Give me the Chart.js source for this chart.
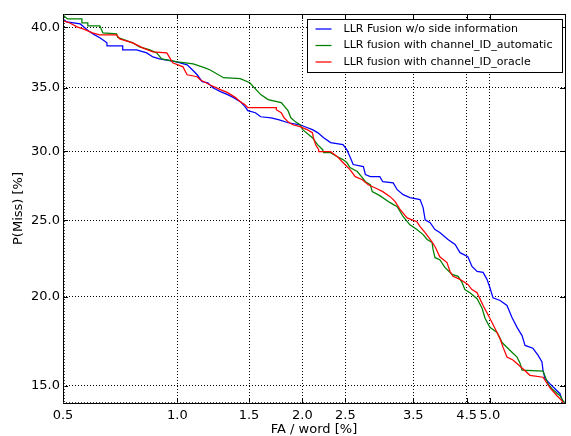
<!DOCTYPE html>
<html>
<head>
<meta charset="utf-8">
<script src="https://cdn.jsdelivr.net/npm/chart.js@4"></script>
<style>
  html, body { margin: 0; padding: 0; background: #fff; }
  #wrap { width: 571px; height: 436px; position: relative; }
</style>
</head>
<body>
<div id="wrap"><canvas id="det"></canvas></div>
<script>
// DET curve, both axes on a normal-deviate (probit) scale, values in percent

const xTicks = [0.5, 1.0, 1.5, 2.0, 2.5, 3.5, 4.5, 5.0];
const yTicks = [15, 20, 25, 30, 35, 40];
const xRange = [0.5, 6.93];
const yRange = [14.15, 41.12];

const seriesLabels = [
    'LLR Fusion w/o side information',
    'LLR fusion with channel_ID_automatic',
    'LLR fusion with channel_ID_oracle'
];
const seriesColors = ['#0000ff', '#008000', '#ff0000'];

// FA / word [%] and P(Miss) [%]
const blueFa = [0.5, 0.512, 0.557, 0.574, 0.591, 0.609, 0.629, 0.657, 0.657, 0.723, 0.723, 0.786, 0.835, 0.866, 0.901, 0.996,
    1.058, 1.09, 1.121, 1.153, 1.191, 1.226, 1.279, 1.332, 1.377, 1.429, 1.467, 1.49, 1.553, 1.599, 1.693, 1.768, 1.853, 1.975,
    2.027, 2.108, 2.166, 2.236, 2.317, 2.469, 2.518, 2.559, 2.601, 2.738, 2.766, 2.835, 2.972, 3.016, 3.175, 3.238, 3.333, 3.444,
    3.616, 3.669, 3.705, 3.794, 3.882, 3.971, 4.126, 4.265, 4.364, 4.524, 4.61, 4.719, 4.849, 4.935, 5.0, 5.07, 5.234, 5.397,
    5.515, 5.641, 5.766, 5.842, 6.045, 6.179, 6.286, 6.313, 6.366, 6.5, 6.643, 6.786, 6.871];
const blueMiss = [40.7, 40.45, 40.28, 39.94, 39.61, 39.36, 39.11, 38.69, 38.44, 38.44, 38.1, 38.1, 37.85, 37.52, 37.35, 37.11,
    36.87, 36.46, 36.05, 35.49, 35.4, 35.0, 34.68, 34.44, 34.2, 33.88, 33.48, 33.16, 33.0, 32.68, 32.6, 32.44, 32.21, 32.05,
    31.9, 31.67, 31.44, 31.05, 30.67, 30.52, 30.13, 29.6, 29.01, 28.86, 28.26, 28.11, 28.11, 27.74, 27.66, 27.16, 26.8, 26.59,
    26.45, 25.88, 25.02, 24.82, 24.35, 24.15, 23.68, 23.34, 22.8, 22.53, 21.9, 21.58, 21.52, 21.08, 20.57, 19.94, 19.77, 19.47,
    18.77, 18.18, 17.71, 17.16, 17.0, 16.62, 16.25, 15.82, 15.39, 15.12, 14.86, 14.61, 14.16];

const greenFa = [0.5, 0.505, 0.515, 0.563, 0.563, 0.584, 0.584, 0.629, 0.641, 0.697, 0.701, 0.768, 0.8, 0.851, 0.886, 0.912,
    1.0, 1.096, 1.172, 1.204, 1.302, 1.429, 1.506, 1.599, 1.665, 1.787, 1.853, 1.881, 1.928, 1.975, 2.003, 2.108, 2.166, 2.224,
    2.236, 2.317, 2.399, 2.469, 2.518, 2.559, 2.656, 2.724, 2.766, 2.835, 2.862, 2.972, 3.127, 3.238, 3.333, 3.444, 3.562, 3.669,
    3.74, 3.829, 3.847, 3.882, 3.971, 4.067, 4.206, 4.324, 4.403, 4.462, 4.567, 4.719, 4.827, 4.892, 5.0, 5.164, 5.28, 5.467,
    5.641, 5.716, 5.766, 6.313, 6.447, 6.557, 6.786, 6.871, 6.93];
const greenMiss = [41.1, 40.9, 40.7, 40.7, 40.36, 40.36, 40.11, 40.11, 39.52, 39.44, 39.15, 38.69, 38.35, 38.1, 37.85, 37.35,
    37.11, 36.95, 36.62, 36.46, 35.81, 35.73, 35.4, 34.44, 34.04, 33.8, 33.16, 32.6, 32.28, 32.05, 31.67, 31.05, 30.52, 30.13,
    29.9, 29.9, 29.6, 29.38, 29.16, 28.78, 28.49, 28.04, 27.74, 27.52, 27.02, 26.73, 26.23, 25.95, 25.24, 24.68, 24.35, 24.01,
    23.68, 23.47, 23.0, 22.47, 22.34, 21.84, 21.39, 21.27, 20.89, 20.44, 20.25, 19.88, 19.3, 18.71, 18.18, 17.89, 17.32, 16.89,
    16.52, 16.19, 15.82, 15.77, 15.12, 14.86, 14.51, 14.26, 14.16];

const redFa = [0.5, 0.522, 0.546, 0.567, 0.601, 0.629, 0.697, 0.71, 0.768, 0.815, 0.866, 0.94, 0.957, 0.973, 1.033, 1.058,
    1.121, 1.14, 1.204, 1.279, 1.332, 1.392, 1.429, 1.467, 1.49, 1.74, 1.74, 1.787, 1.815, 1.853, 1.9, 1.975, 2.05, 2.108, 2.12,
    2.143, 2.178, 2.178, 2.317, 2.399, 2.469, 2.559, 2.628, 2.724, 2.807, 2.931, 3.016, 3.127, 3.206, 3.286, 3.397, 3.562, 3.616,
    3.705, 3.794, 3.882, 3.971, 4.107, 4.166, 4.225, 4.364, 4.524, 4.61, 4.719, 4.849, 5.0, 5.117, 5.234, 5.304, 5.397, 5.54,
    5.766, 5.967, 6.313, 6.5, 6.7, 6.843, 6.871];
const redMiss = [40.53, 40.36, 40.03, 39.86, 39.52, 39.36, 39.36, 39.02, 38.69, 38.27, 37.94, 37.85, 37.44, 37.03, 36.7, 36.05,
    35.89, 35.65, 35.24, 34.84, 34.6, 34.2, 33.88, 33.64, 33.4, 33.4, 33.24, 33.0, 32.6, 32.28, 32.05, 31.9, 31.67, 31.44, 31.05,
    30.52, 30.13, 29.98, 29.98, 29.6, 29.16, 28.63, 28.11, 27.89, 27.52, 27.23, 27.02, 26.66, 26.3, 25.73, 25.16, 24.89, 24.55,
    24.15, 23.68, 23.21, 22.53, 22.15, 21.58, 21.27, 21.08, 20.76, 20.44, 20.25, 19.47, 18.71, 18.12, 17.53, 17.05, 16.52, 16.36,
    15.93, 15.55, 15.45, 14.91, 14.51, 14.26, 14.16];

const FONT = 'DejaVu Sans';

// inverse normal CDF (Acklam)
function probit(p) {
    const a = [-39.69683028665376, 220.9460984245205, -275.9285104469687, 138.3577518672690, -30.66479806614716, 2.506628277459239];
    const b = [-54.47609879822406, 161.5858368580409, -155.6989798598866, 66.80131188771972, -13.28068155288572];
    const c = [-0.007784894002430293, -0.3223964580411365, -2.400758277161838, -2.549671348283481, 4.374664141464968, 2.938163982698783];
    const d = [0.007784695709041462, 0.3224671290700398, 2.445134137142996, 3.754408661907416];
    const plow = 0.02425;
    let q, r;
    if (p < plow) {
        q = Math.sqrt(-2 * Math.log(p));
        return (((((c[0]*q + c[1])*q + c[2])*q + c[3])*q + c[4])*q + c[5]) / ((((d[0]*q + d[1])*q + d[2])*q + d[3])*q + 1);
    }
    if (p <= 1 - plow) {
        q = p - 0.5; r = q * q;
        return (((((a[0]*r + a[1])*r + a[2])*r + a[3])*r + a[4])*r + a[5])*q / (((((b[0]*r + b[1])*r + b[2])*r + b[3])*r + b[4])*r + 1);
    }
    q = Math.sqrt(-2 * Math.log(1 - p));
    return -(((((c[0]*q + c[1])*q + c[2])*q + c[3])*q + c[4])*q + c[5]) / ((((d[0]*q + d[1])*q + d[2])*q + d[3])*q + 1);
}

const pct = v => probit(v / 100);

function toPoints(fa, miss) {
    return fa.map((f, i) => ({x: pct(f), y: pct(miss[i])}));
}

function series(i, fa, miss) {
    return {
        label: seriesLabels[i],
        data: toPoints(fa, miss),
        borderColor: seriesColors[i],
        backgroundColor: seriesColors[i],
        borderWidth: 1.25,
        pointRadius: 0,
        tension: 0,
        fill: false,
        order: 2 - i
    };
}

// spines, inward tick marks and the boxed legend
const framePlugin = {
    id: 'frame',
    afterDraw(chart) {
        const {ctx, chartArea: a, scales: {x, y}} = chart;
        ctx.save();
        ctx.strokeStyle = '#000';
        ctx.lineWidth = 1;
        ctx.setLineDash([]);
        ctx.beginPath();
        xTicks.forEach(v => {
            const px = Math.round(x.getPixelForValue(pct(v))) + 0.5;
            ctx.moveTo(px, a.bottom); ctx.lineTo(px, a.bottom - 5);
            ctx.moveTo(px, a.top); ctx.lineTo(px, a.top + 5);
        });
        yTicks.forEach(v => {
            const py = Math.round(y.getPixelForValue(pct(v))) + 0.5;
            ctx.moveTo(a.left, py); ctx.lineTo(a.left + 5, py);
            ctx.moveTo(a.right, py); ctx.lineTo(a.right - 5, py);
        });
        ctx.stroke();
        ctx.strokeRect(Math.round(a.left) + 0.5, Math.round(a.top) + 0.5,
            Math.round(a.right - a.left), Math.round(a.bottom - a.top));

        // dense minor ticks make the left and bottom spines look heavier
        ctx.strokeStyle = '#444';
        ctx.setLineDash([1, 2]);
        ctx.beginPath();
        ctx.moveTo(Math.round(a.left) + 1.5, a.top);
        ctx.lineTo(Math.round(a.left) + 1.5, a.bottom);
        ctx.moveTo(a.left, Math.round(a.bottom) - 0.5);
        ctx.lineTo(a.right, Math.round(a.bottom) - 0.5);
        ctx.stroke();
        ctx.setLineDash([]);

        // legend
        const lx = 307.5, ly = 19.5, lw = 255, lh = 53;
        ctx.fillStyle = '#fff';
        ctx.strokeStyle = '#000';
        ctx.fillRect(lx, ly, lw, lh);
        ctx.strokeRect(lx, ly, lw, lh);
        ctx.font = '11px "' + FONT + '"';
        ctx.textBaseline = 'middle';
        ctx.textAlign = 'left';
        ctx.lineWidth = 1.25;
        seriesLabels.forEach((label, i) => {
            const ry = ly + 9.5 + i * 16.5;
            ctx.strokeStyle = seriesColors[i];
            ctx.beginPath();
            ctx.moveTo(lx + 8, ry); ctx.lineTo(lx + 24, ry);
            ctx.stroke();
            ctx.fillStyle = '#000';
            ctx.fillText(label, lx + 36, ry);
        });
        ctx.restore();
    }
};

new Chart(document.getElementById('det'), {
    type: 'line',
    data: {
        datasets: [
            series(0, blueFa, blueMiss),
            series(1, greenFa, greenMiss),
            series(2, redFa, redMiss)
        ]
    },
    options: {
        responsive: true,
        maintainAspectRatio: false,
        animation: false,
        layout: { padding: { left: 0, right: 6, top: 14, bottom: 0 } },
        plugins: {
            legend: { display: false },
            tooltip: { enabled: false }
        },
        scales: {
            x: {
                type: 'linear',
                position: 'bottom',
                bounds: 'data',
                min: pct(xRange[0]),
                max: pct(xRange[1]),
                afterBuildTicks: s => { s.ticks = xTicks.map(v => ({value: pct(v)})); },
                afterFit: s => { s.height = 33; },
                ticks: {
                    autoSkip: false,
                    maxRotation: 0,
                    padding: 5,
                    color: '#000',
                    font: { family: FONT, size: 13 },
                    callback: (v, i) => xTicks[i].toFixed(1)
                },
                grid: { color: '#000', lineWidth: 1, drawTicks: false },
                border: { display: false, dash: [1, 2] },
                title: {
                    display: true,
                    text: 'FA / word [%]',
                    color: '#000',
                    font: { family: FONT, size: 13, lineHeight: 1 },
                    padding: 0
                }
            },
            y: {
                type: 'linear',
                position: 'left',
                bounds: 'data',
                min: pct(yRange[0]),
                max: pct(yRange[1]),
                afterBuildTicks: s => { s.ticks = yTicks.map(v => ({value: pct(v)})); },
                afterFit: s => { s.width = 63; },
                ticks: {
                    autoSkip: false,
                    padding: 3,
                    color: '#000',
                    font: { family: FONT, size: 13 },
                    callback: (v, i) => yTicks[i].toFixed(1)
                },
                grid: { color: '#000', lineWidth: 1, drawTicks: false },
                border: { display: false, dash: [1, 2] },
                title: {
                    display: true,
                    text: 'P(Miss) [%]',
                    color: '#000',
                    font: { family: FONT, size: 13, lineHeight: 1 },
                    padding: { top: 12, bottom: 0 }
                }
            }
        }
    },
    plugins: [framePlugin]
});
</script>
</body>
</html>
